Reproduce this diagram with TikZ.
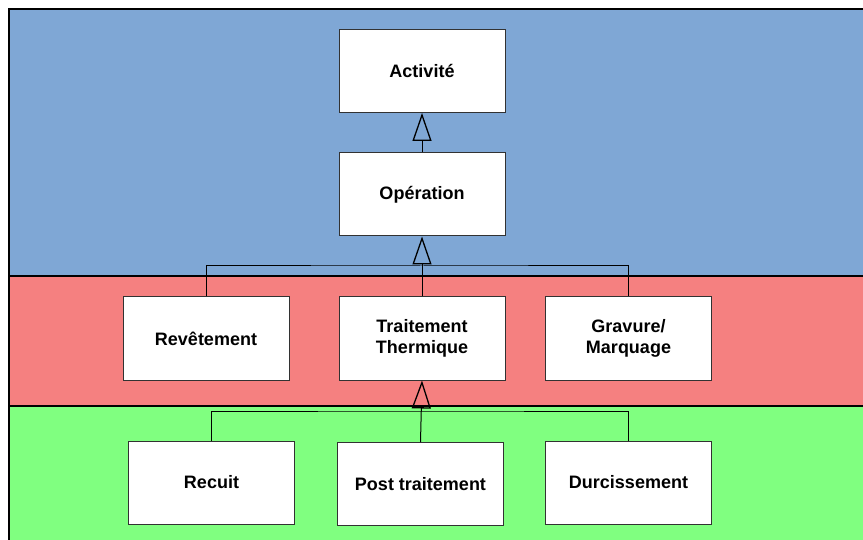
\documentclass[tikz,border=0pt]{standalone}
\usepackage{fontspec}
\setmainfont{Liberation Sans}
\usetikzlibrary{arrows.meta}
\definecolor{bandblue}{RGB}{127,167,213}
\definecolor{bandred}{RGB}{245,128,128}
\definecolor{bandgreen}{RGB}{128,255,128}
\definecolor{boxline}{RGB}{50,50,50}
\tikzset{
  classbox/.style={draw=boxline, line width=1pt, fill=white, minimum width=166pt, minimum height=83pt,
    inner sep=0pt, align=center, font=\fontsize{18}{21.6}\selectfont\bfseries},
  inherit/.style={draw=black, line width=1pt, -{Triangle[open, length=28pt, width=19pt, line width=1.3pt]}},
  link/.style={draw=black, line width=1pt},
  sep/.style={draw=black, line width=2pt}
}
\begin{document}
\begin{tikzpicture}[x=1pt, y=-1pt]
\useasboundingbox (0,0) rectangle (863,540);
% bands
\fill[bandblue] (9,9) rectangle (863,276);
\fill[bandred] (9,276) rectangle (863,406);
\fill[bandgreen] (9,406) rectangle (863,540);
\draw[sep] (863,9) -- (9,9) -- (9,540);
\draw[sep] (9,276) -- (863,276);
\draw[sep] (9,406) -- (863,406);
% boxes
\node[classbox] (act) at (422,71) {Activité};
\node[classbox] (op) at (422,194.5) {Opération};
\node[classbox] (rev) at (206,338.5) {Revêtement};
\node[classbox] (tt) at (422,338.5) {Traitement\\Thermique};
\node[classbox] (grav) at (628.5,338.5) {Gravure/\\Marquage};
\node[classbox] (rec) at (211.5,482.5) {Recuit};
\node[classbox] (post) at (420.5,484) {Post traitement};
\node[classbox] (durc) at (628.5,482.5) {Durcissement};
% connectors
\draw[inherit] (op.north) -- (act.south);
\coordinate (bar1) at (422,266);
\draw[link] (rev.north) |- (bar1) -| (grav.north);
\draw[inherit] (tt.north) -- (op.south);
\coordinate (bar2) at (422,411);
\draw[link] (rec.north) |- (bar2) -| (durc.north);
\draw[inherit] (post.north) -- (tt.south);
\end{tikzpicture}
\end{document}
